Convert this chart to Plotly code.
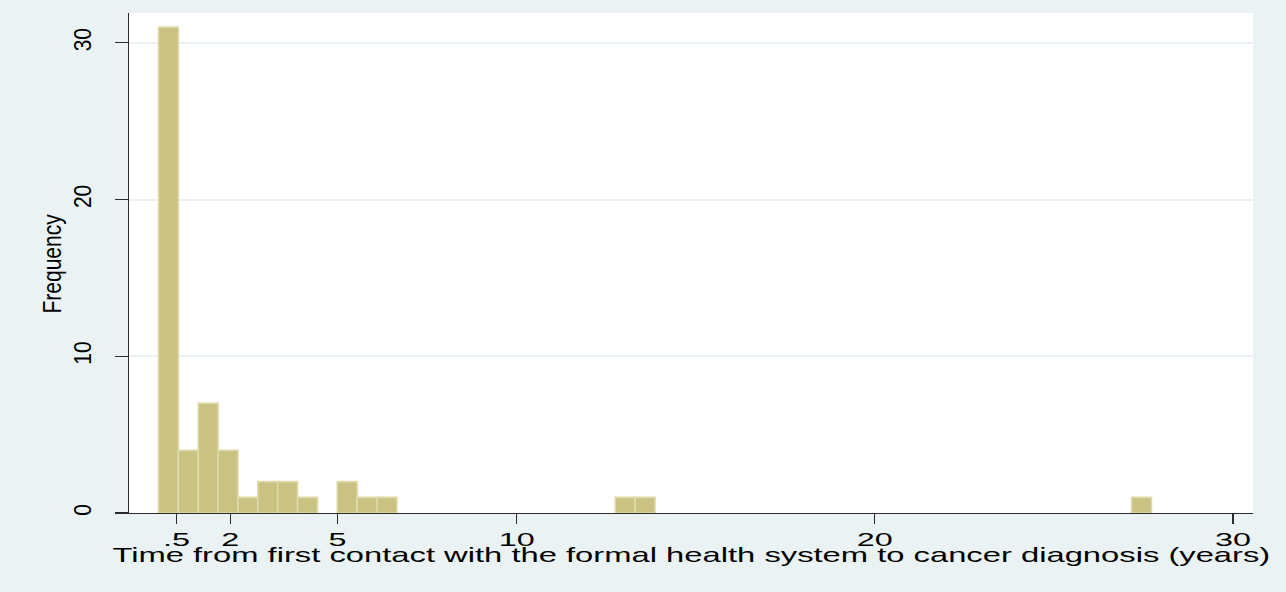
import plotly.graph_objects as go

# Histogram of time (years) from first contact with the formal health system
# to cancer diagnosis: 50 equal-width bins starting at 0.
bin_width = 0.5545
bin_counts = [
    31, 4, 7, 4, 1, 2, 2, 1, 0, 2,
    1, 1, 0, 0, 0, 0, 0, 0, 0, 0,
    0, 0, 0, 1, 1, 0, 0, 0, 0, 0,
    0, 0, 0, 0, 0, 0, 0, 0, 0, 0,
    0, 0, 0, 0, 0, 0, 0, 0, 0, 1,
]
x_tick_values = [0.5, 2, 5, 10, 20, 30]
x_tick_labels = [".5", "2", "5", "10", "20", "30"]
y_tick_values = [0, 10, 20, 30]
y_tick_labels = ["0", "10", "20", "30"]

x_title = "Time from first contact with the formal health system to cancer diagnosis (years)"
y_title = "Frequency"

bin_centers = [(i + 0.5) * bin_width for i in range(len(bin_counts))]
# empty bins get no outline so nothing is stroked along the axis
outline_widths = [1.6 if c > 0 else 0 for c in bin_counts]

BG = "#EAF2F3"
AXIS = "#2b2b2b"
FONT = "Liberation Sans, Arial, sans-serif"

fig = go.Figure(
    go.Bar(
        x=bin_centers,
        y=bin_counts,
        width=bin_width,
        marker=dict(color="#C9C282", line=dict(color="#DEDAA9", width=outline_widths)),
        hoverinfo="skip",
    )
)

fig.update_layout(
    width=1286,
    height=592,
    autosize=False,
    margin=dict(l=129, r=33, t=13, b=79),
    paper_bgcolor=BG,
    plot_bgcolor="white",
    bargap=0,
    showlegend=False,
    font=dict(family=FONT, color="black"),
)

fig.update_xaxes(
    range=[-0.825, 30.56],
    tickmode="array",
    tickvals=x_tick_values,
    ticktext=x_tick_labels,
    ticks="outside",
    ticklen=10,
    tickwidth=1.3,
    tickcolor=AXIS,
    showline=True,
    linecolor=AXIS,
    linewidth=1.3,
    layer="above traces",
    showgrid=False,
    zeroline=False,
    tickfont=dict(size=18.5, family=FONT),
    automargin=False,
)

fig.update_yaxes(
    range=[0, 31.9],
    tickmode="array",
    tickvals=y_tick_values,
    ticktext=y_tick_labels,
    ticks="outside",
    ticklen=13,
    tickwidth=1.3,
    tickcolor=AXIS,
    tickangle=-90,
    showline=True,
    linecolor=AXIS,
    linewidth=1.3,
    layer="above traces",
    showgrid=True,
    gridcolor=BG,
    gridwidth=2,
    zeroline=False,
    tickfont=dict(size=21, family=FONT),
    automargin=False,
)

# Axis titles placed as annotations (index 0: x title, index 1: y title)
fig.add_annotation(
    text=x_title, xref="paper", yref="paper", x=0.5, y=-0.085,
    xanchor="center", yanchor="middle", showarrow=False,
    font=dict(size=21, family=FONT, color="black"),
)
fig.add_annotation(
    text=y_title, xref="paper", yref="paper", x=-0.0694, y=0.5,
    xanchor="center", yanchor="middle", textangle=-90, showarrow=False,
    font=dict(size=21, family=FONT, color="black"),
)

# Widen the lettering horizontally (on screen) around each label's centre,
# then set the distance of the labels from the axes.
label_js = """
var gd = document.getElementById('{plot_id}');
var svgBox = gd.querySelector('svg.main-svg').getBoundingClientRect();
function widen(sel, sx, sy) {
  gd.querySelectorAll(sel).forEach(function (t) {
    var b = t.getBBox();
    var cx = b.x + b.width / 2, cy = b.y + b.height / 2;
    var prev = t.getAttribute('transform') || '';
    t.setAttribute('transform', prev + ' translate(' + cx + ',' + cy + ') scale(' + sx + ',' + sy + ') translate(' + (-cx) + ',' + (-cy) + ')');
  });
}
function place(sel, tx, ty) {
  gd.querySelectorAll(sel).forEach(function (t) {
    var r = t.getBoundingClientRect();
    var dx = tx === null ? 0 : (svgBox.left + tx) - (r.left + r.width / 2);
    var dy = ty === null ? 0 : (svgBox.top + ty) - (r.top + r.height / 2);
    var prev = t.getAttribute('transform') || '';
    t.setAttribute('transform', 'translate(' + dx + ',' + dy + ') ' + prev);
  });
}
widen('g.xtick text', 1.75, 1);
widen('g.annotation[data-index="0"] text', 1.56, 1);
widen('g.ytick text', 1, 1.1);
widen('g.annotation[data-index="1"] text', 1, 1.25);
place('g.xtick text', null, 540);
place('g.ytick text', 83.5, null);
place('g.annotation[data-index="0"] text', null, 555);
place('g.annotation[data-index="1"] text', 51, null);
"""

fig.write_html("out.html", post_script=label_js, config={"staticPlot": True})
